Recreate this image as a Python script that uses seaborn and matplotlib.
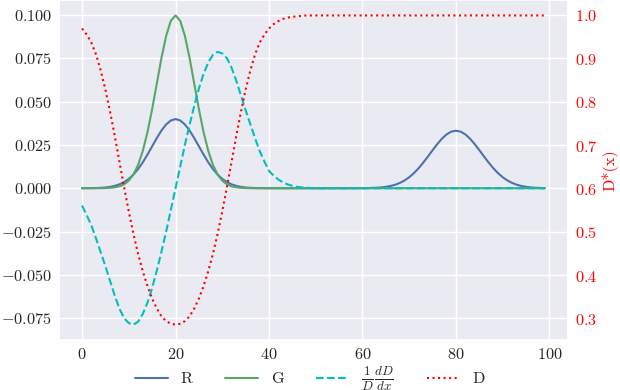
import matplotlib
matplotlib.use('Agg')
import matplotlib.pyplot as plt
import seaborn as sns

# sample positions: every unit, except every second unit between 50 and 60
x = list(range(0, 51)) + list(range(52, 60, 2)) + list(range(60, 100))

R = [0.00001, 0.00003, 0.00006, 0.00012, 0.00024, 0.00044, 0.00079, 0.00136, 0.00224, 0.00355,
     0.00540, 0.00790, 0.01109, 0.01497, 0.01942, 0.02420, 0.02897, 0.03333, 0.03683, 0.03911,
     0.03990,
     0.03911, 0.03683, 0.03333, 0.02897, 0.02420, 0.01942, 0.01497, 0.01109, 0.00790, 0.00540,
     0.00355, 0.00224, 0.00136, 0.00079, 0.00044, 0.00024, 0.00012, 0.00006, 0.00003, 0.00001,
     0.0, 0.0, 0.0, 0.0, 0.0, 0.0, 0.0, 0.0, 0.0, 0.0,
     0.0, 0.0, 0.0, 0.00001,
     0.00004, 0.00009, 0.00016, 0.00028, 0.00048, 0.00081, 0.00130, 0.00203, 0.00307, 0.00449,
     0.00636, 0.00870, 0.01153, 0.01477, 0.01831, 0.02196, 0.02548, 0.02861, 0.03108, 0.03266,
     0.03320, 0.03266, 0.03108, 0.02861, 0.02548, 0.02196, 0.01831, 0.01477, 0.01153, 0.00870,
     0.00636, 0.00449, 0.00307, 0.00203, 0.00130, 0.00081, 0.00048, 0.00028, 0.00016, 0.00009]

G = [0.0, 0.0, 0.0, 0.00001, 0.00003, 0.00009, 0.00022, 0.00051, 0.00111, 0.00227,
     0.00438, 0.00793, 0.01349, 0.02156, 0.03237, 0.04565, 0.06047, 0.07526, 0.08799, 0.09663,
     0.09970,
     0.09663, 0.08799, 0.07526, 0.06047, 0.04565, 0.03237, 0.02156, 0.01349, 0.00793, 0.00438,
     0.00227, 0.00111, 0.00051, 0.00022, 0.00009, 0.00003, 0.00001, 0.0, 0.0, 0.0,
     0.0, 0.0, 0.0, 0.0, 0.0, 0.0, 0.0, 0.0, 0.0, 0.0] + [0.0] * 44

dlogD = [-0.0100, -0.0155, -0.0215, -0.0290, -0.0370, -0.0450, -0.0535, -0.0620, -0.0695, -0.0750,
         -0.0778, -0.0787, -0.0770, -0.0725, -0.0660, -0.0575, -0.0475, -0.0365, -0.0250, -0.0125,
         0.0,
         0.0125, 0.0250, 0.0365, 0.0475, 0.0575, 0.0660, 0.0725, 0.0770, 0.0787, 0.0778,
         0.0750, 0.0695, 0.0620, 0.0535, 0.0450, 0.0370, 0.0290, 0.0215, 0.0155, 0.0100,
         0.0072, 0.0050, 0.0034, 0.0022, 0.0014, 0.0008, 0.0005, 0.0003, 0.0001, 0.0] + [0.0] * 44

D = [0.970, 0.956, 0.937, 0.910, 0.873, 0.829, 0.778, 0.722, 0.663, 0.604,
     0.548, 0.496, 0.450, 0.410, 0.376, 0.347, 0.324, 0.306, 0.295, 0.289,
     0.287,
     0.289, 0.295, 0.306, 0.324, 0.347, 0.376, 0.410, 0.450, 0.496, 0.548,
     0.604, 0.663, 0.722, 0.778, 0.829, 0.873, 0.910, 0.937, 0.956, 0.970,
     0.980, 0.987, 0.992, 0.995, 0.997, 0.998, 0.999, 1.0, 1.0, 1.0] + [1.0] * 44

sns.set_theme(style='darkgrid')
plt.rcParams['font.family'] = 'serif'
plt.rcParams['font.serif'] = ['cmr10']
plt.rcParams['mathtext.fontset'] = 'cm'
plt.rcParams['axes.formatter.use_mathtext'] = True

fs = 11.7
fig = plt.figure(figsize=(6.2, 3.9), dpi=100)
ax = fig.add_axes([0.095, 0.128, 0.821, 0.872])

sns.lineplot(x=x, y=R, ax=ax, color='#4C72B0', lw=1.5, label='R')
sns.lineplot(x=x, y=G, ax=ax, color='#55A868', lw=1.5, label='G')
sns.lineplot(x=x, y=dlogD, ax=ax, color='#00BFBF', lw=1.5, linestyle='--',
             label=r'$\frac{1}{D}\frac{dD}{dx}$')
ax.set_xticks([0, 20, 40, 60, 80, 100])
ax.tick_params(labelsize=fs, length=0, pad=5)

ax2 = ax.twinx()
sns.lineplot(x=x, y=D, ax=ax2, color='red', lw=1.5, linestyle=':', label='D')
ax2.grid(False)
ax2.set_ylabel('D*(x)', color='red', fontsize=fs, labelpad=3)
ax2.tick_params(axis='y', colors='red', labelsize=fs, length=0, pad=5)

# one legend for both axes, under the plot
h1, l1 = ax.get_legend_handles_labels()
h2, l2 = ax2.get_legend_handles_labels()
ax.get_legend().remove()
ax2.get_legend().remove()
leg = fig.legend(h1 + h2, l1 + l2, loc='lower center', ncol=4, frameon=False,
                 fontsize=fs, bbox_to_anchor=(0.5, -0.044))
leg.get_texts()[2].set_fontsize(13.5)

fig.savefig('out.png', dpi=100)
